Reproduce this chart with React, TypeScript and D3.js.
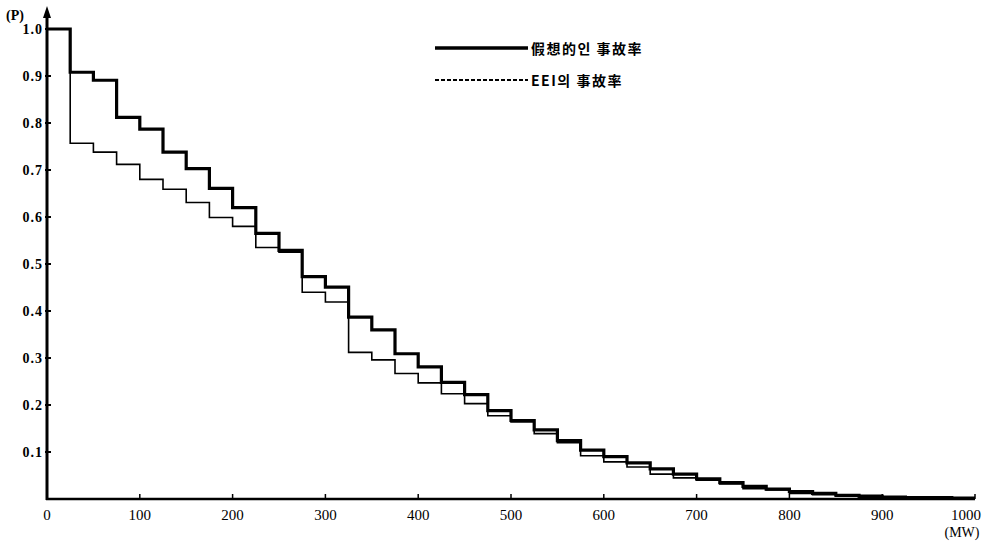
import * as d3 from 'd3'

// capacity outage bins (MW), each step covers 25 MW
const binStart = [
  0, 25, 50, 75, 100, 125, 150, 175, 200, 225,
  250, 275, 300, 325, 350, 375, 400, 425, 450, 475,
  500, 525, 550, 575, 600, 625, 650, 675, 700, 725,
  750, 775, 800, 825, 850, 875, 900, 925, 950, 975,
]

// 假想的인 事故率 (heavy line)
const hypothetical = [
  1.0, 0.908, 0.891, 0.812, 0.787, 0.738, 0.703, 0.661, 0.62, 0.565,
  0.529, 0.473, 0.451, 0.387, 0.36, 0.309, 0.281, 0.248, 0.222, 0.188,
  0.167, 0.147, 0.124, 0.104, 0.09, 0.077, 0.064, 0.053, 0.043, 0.035,
  0.027, 0.021, 0.016, 0.012, 0.008, 0.006, 0.004, 0.003, 0.003, 0.002,
]

// EEI의 事故率 (thin line)
const eei = [
  1.0, 0.757, 0.738, 0.712, 0.68, 0.659, 0.631, 0.599, 0.58, 0.535,
  0.525, 0.44, 0.419, 0.312, 0.296, 0.267, 0.247, 0.224, 0.203, 0.177,
  0.164, 0.139, 0.12, 0.092, 0.079, 0.068, 0.053, 0.045, 0.04, 0.032,
  0.022, 0.019, 0.012, 0.009, 0.006, 0.004, 0.002, 0.001, 0.001, 0.0,
]

const xMax = 1000
const xTicks = [0, 100, 200, 300, 400, 500, 600, 700, 800, 900, 1000]
const yTicks = [0.1, 0.2, 0.3, 0.4, 0.5, 0.6, 0.7, 0.8, 0.9, 1.0]
const legendLabels = ['假想的인 事故率', 'EEI의 事故率']

const W = 987
const H = 543
const numFont = '"Liberation Serif", "DejaVu Serif", serif'
const krFont = '"Noto Sans CJK KR", "Noto Sans CJK JP", sans-serif'

export default function App() {
  const x = d3.scaleLinear().domain([0, xMax]).range([47, 975])
  const y = d3.scaleLinear().domain([0, 1]).range([499, 29])

  const line = d3
    .line<[number, number]>()
    .x(d => x(d[0]))
    .y(d => y(d[1]))
    .curve(d3.curveStepAfter)

  const toPts = (vals: number[]): [number, number][] => {
    const pts = binStart.map((b, i) => [b, vals[i]] as [number, number])
    pts.push([xMax, vals[vals.length - 1]])
    return pts
  }

  const x0 = x(0)
  const yBase = y(0)

  return (
    <svg
      width={W}
      height={H}
      style={{ position: 'absolute', left: 0, top: 0, background: '#fff' }}
    >
      {/* curves */}
      <path d={line(toPts(eei)) || ''} fill="none" stroke="#000" strokeWidth={1.6} />
      <path d={line(toPts(hypothetical)) || ''} fill="none" stroke="#000" strokeWidth={3.2} />

      {/* axes */}
      <line x1={x0} x2={x0} y1={yBase + 1} y2={14} stroke="#000" strokeWidth={3} />
      <path d={`M${x0 - 4},${18} L${x0},${6} L${x0 + 4},${18} Z`} fill="#000" />
      <line x1={x0 - 1} x2={x(xMax)} y1={yBase} y2={yBase} stroke="#000" strokeWidth={2.5} />

      {yTicks.map(t => (
        <g key={t}>
          <line x1={x0 - 2} x2={x0 + 4} y1={y(t)} y2={y(t)} stroke="#000" strokeWidth={2} />
          <text
            x={43}
            y={y(t) + 5}
            textAnchor="end"
            fontFamily={numFont}
            fontWeight="bold"
            fontSize={14}
            letterSpacing={1}
            fill="#000"
          >
            {d3.format('.1f')(t)}
          </text>
        </g>
      ))}
      <text x={6} y={20} fontFamily={numFont} fontWeight="bold" fontSize={14} fill="#000">
        (P)
      </text>

      {xTicks.map((t, i) => {
        const last = i === xTicks.length - 1
        return (
          <g key={t}>
            <line x1={x(t)} x2={x(t)} y1={yBase} y2={yBase - 5} stroke="#000" strokeWidth={1.5} />
            <text
              x={last ? x(t) + 6 : x(t)}
              y={520}
              textAnchor={last ? 'end' : 'middle'}
              fontFamily={numFont}
              fontSize={15}
              fill="#000"
            >
              {t}
            </text>
          </g>
        )
      })}
      <text x={962} y={537} textAnchor="middle" fontFamily={numFont} fontSize={14} fill="#000">
        (MW)
      </text>

      {/* legend */}
      <line x1={435} x2={528} y1={48} y2={48} stroke="#000" strokeWidth={3.5} />
      <text x={531} y={54} fontFamily={krFont} fontWeight="bold" fontSize={14} letterSpacing={1.5} fill="#000">
        {legendLabels[0]}
      </text>
      <line x1={435} x2={528} y1={80} y2={80} stroke="#000" strokeWidth={1.8} strokeDasharray="4,2" />
      <text x={531} y={86} fontFamily={krFont} fontWeight="bold" fontSize={14} letterSpacing={1.5} fill="#000">
        {legendLabels[1]}
      </text>
    </svg>
  )
}
